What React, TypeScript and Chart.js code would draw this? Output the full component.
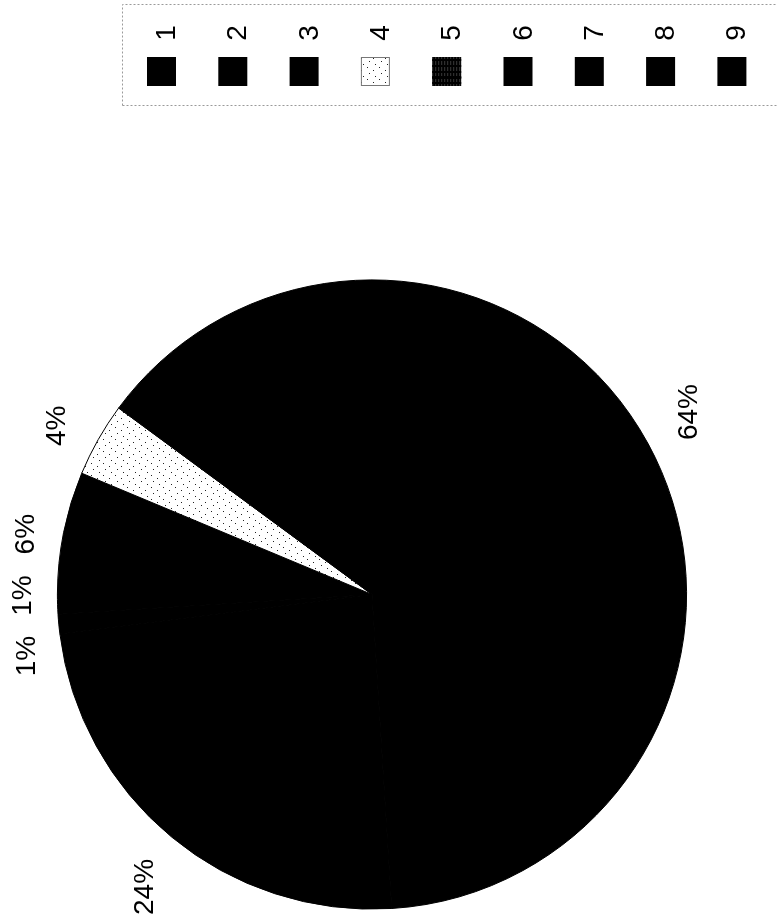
import React, { useEffect, useRef } from "react";
import { Chart, registerables } from "chart.js";

Chart.register(...registerables);

// ---- data ----
const categories: string[] = ["1", "2", "3", "4", "5", "6", "7", "8", "9"];
const shares: number[] = [6.3, 0, 0, 3.8, 63.9, 24, 1, 1, 0];

// ---- layout (unrotated frame: the chart is drawn 924x777 and turned 90° counter-clockwise) ----
const W = 924;
const H = 777;
const FONT = '"Liberation Sans", Arial, Helvetica, sans-serif';
const FONT_SIZE = 28;
const LABEL_ANGLE_SHIFT = (-1.5 * Math.PI) / 180;
const LABEL_BASE_GAP = 35;

function makeDotPattern(ctx: CanvasRenderingContext2D) {
  const c = document.createElement("canvas");
  c.width = 12;
  c.height = 12;
  const g = c.getContext("2d")!;
  g.fillStyle = "#ffffff";
  g.fillRect(0, 0, 12, 12);
  g.fillStyle = "#222222";
  g.fillRect(1, 1, 1, 1);
  g.fillRect(7, 3, 1, 1);
  g.fillRect(4, 7, 1, 1);
  g.fillRect(10, 9, 1, 1);
  return ctx.createPattern(c, "repeat")!;
}

const labelPlugin = {
  id: "pctLabels",
  afterDatasetsDraw(chart: any) {
    const meta = chart.getDatasetMeta(0);
    const ds = chart.data.datasets[0];
    const vals: number[] = ds.data as number[];
    const total = vals.reduce((a, b) => a + b, 0);
    const ctx: CanvasRenderingContext2D = chart.ctx;
    ctx.save();
    ctx.font = `${FONT_SIZE}px ${FONT}`;
    const items: any[] = [];
    meta.data.forEach((arc: any, i: number) => {
      const v = vals[i];
      if (!v) return;
      const p = arc.getProps(["x", "y", "startAngle", "endAngle", "outerRadius"], true);
      const mid = (p.startAngle + p.endAngle) / 2 + LABEL_ANGLE_SHIFT;
      const text = Math.round((v / total) * 100) + "%";
      const w = ctx.measureText(text).width;
      const ux = Math.cos(mid);
      const uy = Math.sin(mid);
      const dist = p.outerRadius + LABEL_BASE_GAP + (Math.abs(ux) * w) / 2;
      items.push({ text, w, cx: p.x, cy: p.y, dist, sy: Math.sign(uy) || -1, x: p.x + ux * dist, y: p.y + uy * dist });
    });
    const h = FONT_SIZE * 0.8;
    const gap = 20;
    for (let it = 0; it < 100; it++) {
      let moved = false;
      for (let i = 0; i < items.length; i++) {
        for (let j = i + 1; j < items.length; j++) {
          const a = items[i];
          const b = items[j];
          if (Math.abs(a.y - b.y) >= h + 4) continue;
          const need = (a.w + b.w) / 2 + gap;
          const dx = b.x - a.x;
          if (Math.abs(dx) < need - 0.01) {
            const push = (need - Math.abs(dx)) / 2;
            const s = dx >= 0 ? 1 : -1;
            a.x -= s * push;
            b.x += s * push;
            [a, b].forEach((o) => {
              const rx = o.x - o.cx;
              if (Math.abs(rx) < o.dist) o.y = o.cy + o.sy * Math.sqrt(o.dist * o.dist - rx * rx);
            });
            moved = true;
          }
        }
      }
      if (!moved) break;
    }
    ctx.fillStyle = "#000000";
    ctx.textAlign = "center";
    ctx.textBaseline = "alphabetic";
    items.forEach((o) => {
      ctx.fillText(o.text, o.x, o.y + FONT_SIZE * 0.358);
    });
    ctx.restore();
  },
};

const legendPlugin = {
  id: "boxLegend",
  afterDraw(chart: any) {
    const ctx: CanvasRenderingContext2D = chart.ctx;
    const ds = chart.data.datasets[0];
    const labels: string[] = chart.data.labels;
    const left = 818;
    const right = 919;
    const top = 122;
    const bottom = 800;
    const boxX = 838;
    const boxSize = 29;
    const firstTop = 147;
    const pitch = 71.3;
    const textX = 891;
    ctx.save();
    ctx.strokeStyle = "#9a9a9a";
    ctx.lineWidth = 1;
    ctx.setLineDash([2, 2]);
    ctx.strokeRect(left + 0.5, top + 0.5, right - left, bottom - top);
    ctx.setLineDash([]);
    ctx.font = `${FONT_SIZE}px ${FONT}`;
    ctx.textAlign = "center";
    ctx.textBaseline = "alphabetic";
    labels.forEach((lab, i) => {
      const y = firstTop + i * pitch;
      const bg = (ds.backgroundColor as any[])[i];
      ctx.fillStyle = bg;
      ctx.fillRect(boxX, y, boxSize, boxSize);
      if (i === 3) {
        ctx.strokeStyle = "#777777";
        ctx.strokeRect(boxX + 0.5, y + 0.5, boxSize - 1, boxSize - 1);
      }
      if (i === 4) {
        ctx.fillStyle = "#3a3a3a";
        for (let k = 0; k < boxSize; k += 3) {
          ctx.fillRect(boxX, y + k, boxSize, 1);
        }
        ctx.fillStyle = "#000";
        for (let k = 1; k < boxSize; k += 5) ctx.fillRect(boxX + ((k * 7) % boxSize), y, 2, boxSize);
      }
      ctx.fillStyle = "#000000";
      ctx.fillText(lab, textX, y + boxSize / 2 + 3.5 + FONT_SIZE * 0.358);
    });
    ctx.restore();
  },
};

export default function App() {
  const ref = useRef<HTMLCanvasElement | null>(null);
  useEffect(() => {
    const canvas = ref.current!;
    const ctx = canvas.getContext("2d")!;
    const dots = makeDotPattern(ctx);
    const colors: any[] = ["#000000", "#000000", "#000000", dots, "#000000", "#000000", "#000000", "#000000", "#000000"];
    const chart = new Chart(canvas, {
      type: "pie",
      data: {
        labels: categories,
        datasets: [
          {
            data: shares,
            backgroundColor: colors,
            borderColor: "#000000",
            borderWidth: 1,
            hoverOffset: 0,
            offset: 0,
          },
        ],
      },
      options: {
        responsive: false,
        animation: false,
        events: [],
        layout: { padding: { left: 14.4, right: 279.4, top: 56.9, bottom: 89.9 } },
        plugins: { legend: { display: false }, tooltip: { enabled: false }, title: { display: false } },
      },
      plugins: [labelPlugin, legendPlugin],
    } as any);
    return () => chart.destroy();
  }, []);
  return (
    <div style={{ position: "absolute", left: 0, top: 0, width: 777, height: 924, overflow: "hidden", background: "#ffffff" }}>
      <div
        style={{
          position: "absolute",
          left: 0,
          top: 0,
          width: W,
          height: H,
          transformOrigin: "0 0",
          transform: "translateY(924px) rotate(-90deg)",
        }}
      >
        <canvas ref={ref} width={W} height={H} style={{ width: W, height: H, display: "block" }} />
      </div>
    </div>
  );
}
